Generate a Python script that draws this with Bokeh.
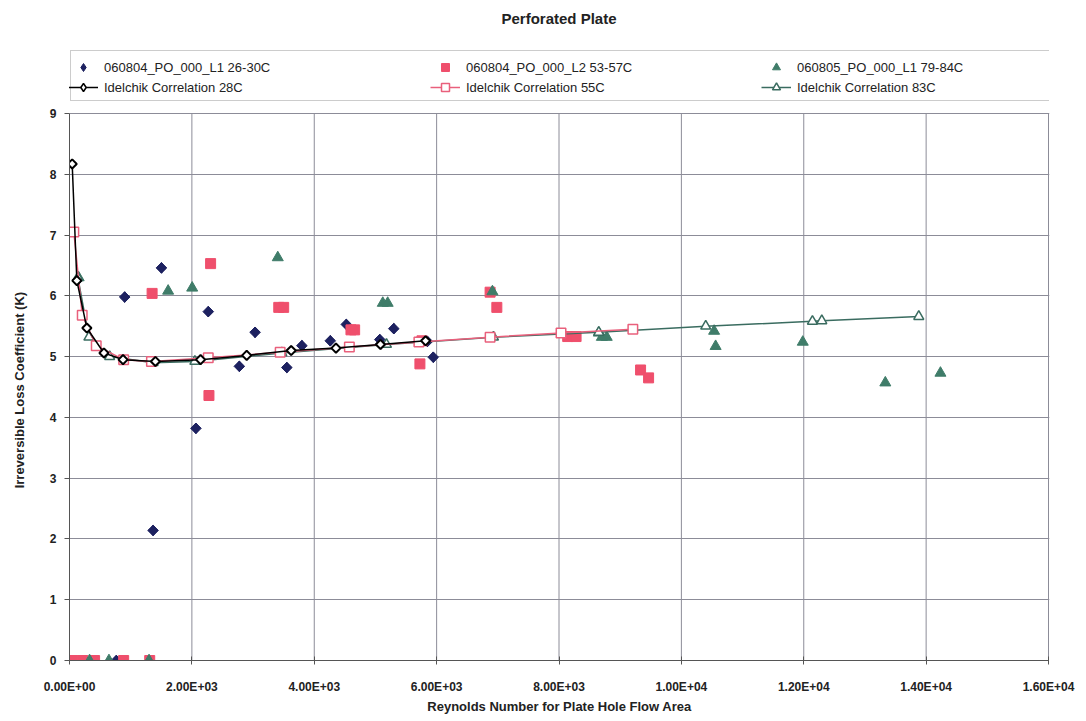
from bokeh.plotting import figure
from bokeh.models import Range1d, Legend, LegendItem, CustomJSTickFormatter, FixedTicker, Label
from bokeh.embed import file_html
from bokeh.resources import INLINE

# ---- data ----
s1_x = [130, 765, 902, 1366, 1503, 2066, 2268, 2776, 3033, 3552, 3798, 4262, 4524, 5071, 5090, 5300, 5850, 5945]
s1_y = [6.26, 0, 5.98, 2.14, 6.46, 3.82, 5.74, 4.84, 5.40, 4.82, 5.18, 5.26, 5.53, 5.28, 5.21, 5.46, 5.25, 4.99]

s2_x = [55, 218, 410, 885, 1311, 1350, 2279, 2306, 3420, 3500, 4600, 4660, 5727, 5760, 6874, 6984, 8142, 8279, 9333, 9464]
s2_y = [0, 0, 0, 0, 0, 6.04, 4.36, 6.53, 5.81, 5.81, 5.44, 5.44, 4.88, 5.26, 6.06, 5.81, 5.33, 5.33, 4.78, 4.65]

s3_x = [150, 328, 645, 1300, 1612, 2005, 3404, 5120, 5200, 6912, 8650, 8700, 8780, 10535, 10560, 11984, 13333, 14234]
s3_y = [6.30, 0, 0, 0, 6.08, 6.13, 6.63, 5.88, 5.88, 6.07, 5.39, 5.32, 5.32, 5.42, 5.17, 5.24, 4.57, 4.73]

c28_x = [44, 120, 284, 563, 875, 1404, 2142, 2896, 3623, 4355, 5082, 5820]
c28_y = [8.17, 6.25, 5.47, 5.06, 4.95, 4.92, 4.95, 5.02, 5.10, 5.14, 5.20, 5.26]

c55_x = [71, 208, 437, 885, 1339, 2268, 3443, 4574, 5710, 6874, 8033, 9207]
c55_y = [7.05, 5.68, 5.18, 4.95, 4.92, 4.98, 5.07, 5.16, 5.24, 5.32, 5.39, 5.45]

c83_x = [137, 317, 656, 1366, 2049, 3470, 5180, 6929, 8650, 10398, 12142, 12295, 13880]
c83_y = [6.30, 5.32, 5.00, 4.90, 4.92, 5.06, 5.20, 5.32, 5.40, 5.50, 5.58, 5.59, 5.66]

labels = ["060804_PO_000_L1 26-30C", "060804_PO_000_L2 53-57C", "060805_PO_000_L1 79-84C",
          "Idelchik Correlation 28C", "Idelchik Correlation 55C", "Idelchik Correlation 83C"]
title_text = "Perforated Plate"
x_title = "Reynolds Number for Plate Hole Flow Area"
y_title = "Irreversible Loss Coefficient (K)"
x_ticks = [0, 2000, 4000, 6000, 8000, 10000, 12000, 14000, 16000]
y_ticks = [0, 1, 2, 3, 4, 5, 6, 7, 8, 9]

NAVY = "#1d2160"
RED = "#ef4f6c"
TEAL = "#3f7c69"
PINK_LINE = "#e9607c"
TEAL_LINE = "#3a6c60"
GRID = "#8c8c98"
FONT = "Liberation Sans"

# ---- layout in pixels ----
W, H = 1080, 716
F_LEFT, F_RIGHT = 69, 1049          # frame edges (x=16000 lies at 1048)
Y0_PX, Y9_PX, F_TOP = 660, 113, 0   # frame reaches the top edge so title and legend live inside it
X_END = x_ticks[-1] * (F_RIGHT - F_LEFT) / (1048 - F_LEFT)
Y_END = y_ticks[-1] * (Y0_PX - F_TOP) / (Y0_PX - Y9_PX)


def y_of_px(py):
    return y_ticks[-1] * (Y0_PX - py) / (Y0_PX - Y9_PX)


p = figure(width=W, height=H, output_backend="svg", toolbar_location=None,
           x_range=Range1d(0, X_END), y_range=Range1d(0, Y_END),
           min_border_left=F_LEFT, min_border_right=W - F_RIGHT,
           min_border_top=F_TOP, min_border_bottom=H - Y0_PX)

p.add_layout(Label(x=(x_ticks[0] + x_ticks[-1]) / 2, y=y_of_px(18), text=title_text,
                   text_align="center", text_baseline="middle", text_font=FONT,
                   text_font_size="15px", text_font_style="bold", text_color="#222222"))

# vertical grid lines limited to the 0..9 band
p.segment(x0=x_ticks, x1=x_ticks, y0=[y_ticks[0]] * len(x_ticks), y1=[y_ticks[-1]] * len(x_ticks),
          line_color=GRID, line_width=1)

# diamond-shaped copies under the rotated-square markers (fully covered), used for the legend glyphs
lg_d1 = p.scatter(s1_x, s1_y, marker="diamond", size=10.5, fill_color=NAVY, line_color=NAVY)
r1 = p.scatter(s1_x, s1_y, marker="square", angle=0.7854, size=7.5, fill_color=NAVY, line_color=NAVY)
r2 = p.scatter(s2_x, s2_y, marker="square", size=10, fill_color=RED, line_color=RED)
r3 = p.scatter(s3_x, s3_y, marker="triangle", size=11, fill_color=TEAL, line_color=TEAL)

l83 = p.line(c83_x, c83_y, line_color=TEAL_LINE, line_width=1.5)
m83 = p.scatter(c83_x, c83_y, marker="triangle", size=10, fill_color="white", line_color=TEAL_LINE, line_width=1.5)
l55 = p.line(c55_x, c55_y, line_color=PINK_LINE, line_width=1.5)
m55 = p.scatter(c55_x, c55_y, marker="square", size=9.5, fill_color="white", line_color=PINK_LINE, line_width=1.5)
l28 = p.line(c28_x, c28_y, line_color="black", line_width=1.5)
lg_d28 = p.scatter(c28_x, c28_y, marker="diamond", size=8.5, fill_color="white", line_color="black", line_width=1.5)
m28 = p.scatter(c28_x, c28_y, marker="square", angle=0.7854, size=6.5, fill_color="white", line_color="black", line_width=2)

# framed box behind the legend (an item with an empty, invisible renderer)
dummy = p.scatter([], [], size=1, alpha=0)
box = Legend(items=[LegendItem(label=" ", renderers=[dummy])], location=(0.5, Y0_PX - 101),
             orientation="vertical", padding=0, margin=0, spacing=0,
             glyph_width=1, glyph_height=49, label_height=49, label_width=977, label_standoff=0,
             label_text_alpha=0, border_line_color="#9a9a9a", border_line_width=1,
             background_fill_color="white", background_fill_alpha=1)
p.add_layout(box, "center")

common = dict(orientation="vertical", label_text_font=FONT, label_text_font_size="13px",
              label_text_color="#222222", glyph_width=30, glyph_height=20, label_height=20,
              label_standoff=6, spacing=0, padding=5, margin=0,
              border_line_color=None, background_fill_alpha=0)
col_x = [-1, 361, 692]
groups = [[(labels[0], [lg_d1]), (labels[3], [l28, lg_d28])],
          [(labels[1], [r2]), (labels[4], [l55, m55])],
          [(labels[2], [r3]), (labels[5], [l83, m83])]]
for cx, grp in zip(col_x, groups):
    lg = Legend(items=[LegendItem(label=t, renderers=rs) for t, rs in grp],
                location=(cx, Y0_PX - 97), **common)
    p.add_layout(lg, "center")

fmt = CustomJSTickFormatter(code="""
const s = tick.toExponential(2).toUpperCase();
const parts = s.split("E");
let e = parts[1];
const sign = e[0];
let d = e.slice(1);
if (d.length < 2) { d = "0" + d; }
return parts[0] + "E" + sign + d;
""")
p.xaxis.ticker = FixedTicker(ticks=x_ticks)
p.yaxis.ticker = FixedTicker(ticks=y_ticks)
p.ygrid.ticker = FixedTicker(ticks=y_ticks)
p.xgrid.visible = False
p.xaxis.formatter = fmt
p.xaxis.axis_label = x_title
# trailing no-break spaces move the visible title down to the middle of the 0..9 band
p.yaxis.axis_label = y_title + "\u00a0" * 33
p.yaxis.bounds = (y_ticks[0], y_ticks[-1])
p.xaxis.bounds = (x_ticks[0], x_ticks[-1])
for ax in (p.xaxis, p.yaxis):
    ax.axis_label_text_font = FONT
    ax.axis_label_text_font_size = "13px"
    ax.axis_label_text_font_style = "bold"
    ax.axis_label_text_color = "#222222"
    ax.major_label_text_font = FONT
    ax.major_label_text_font_size = "12px"
    ax.major_label_text_font_style = "bold"
    ax.major_label_text_color = "#222222"
    ax.axis_line_color = "#555555"
    ax.major_tick_line_color = "#555555"
    ax.minor_tick_line_color = None
p.xaxis.major_tick_in = 4
p.xaxis.major_tick_out = 4
p.xaxis.major_label_standoff = 15
p.xaxis.axis_label_standoff = 2
p.yaxis.major_tick_in = 0
p.yaxis.major_tick_out = 5
p.yaxis.major_label_standoff = 8
p.yaxis.axis_label_standoff = 20

p.ygrid.grid_line_color = GRID
p.ygrid.grid_line_width = 1
p.outline_line_color = None
p.background_fill_color = "white"
p.border_fill_color = "white"

open("out.html", "w").write(file_html(p, INLINE))
